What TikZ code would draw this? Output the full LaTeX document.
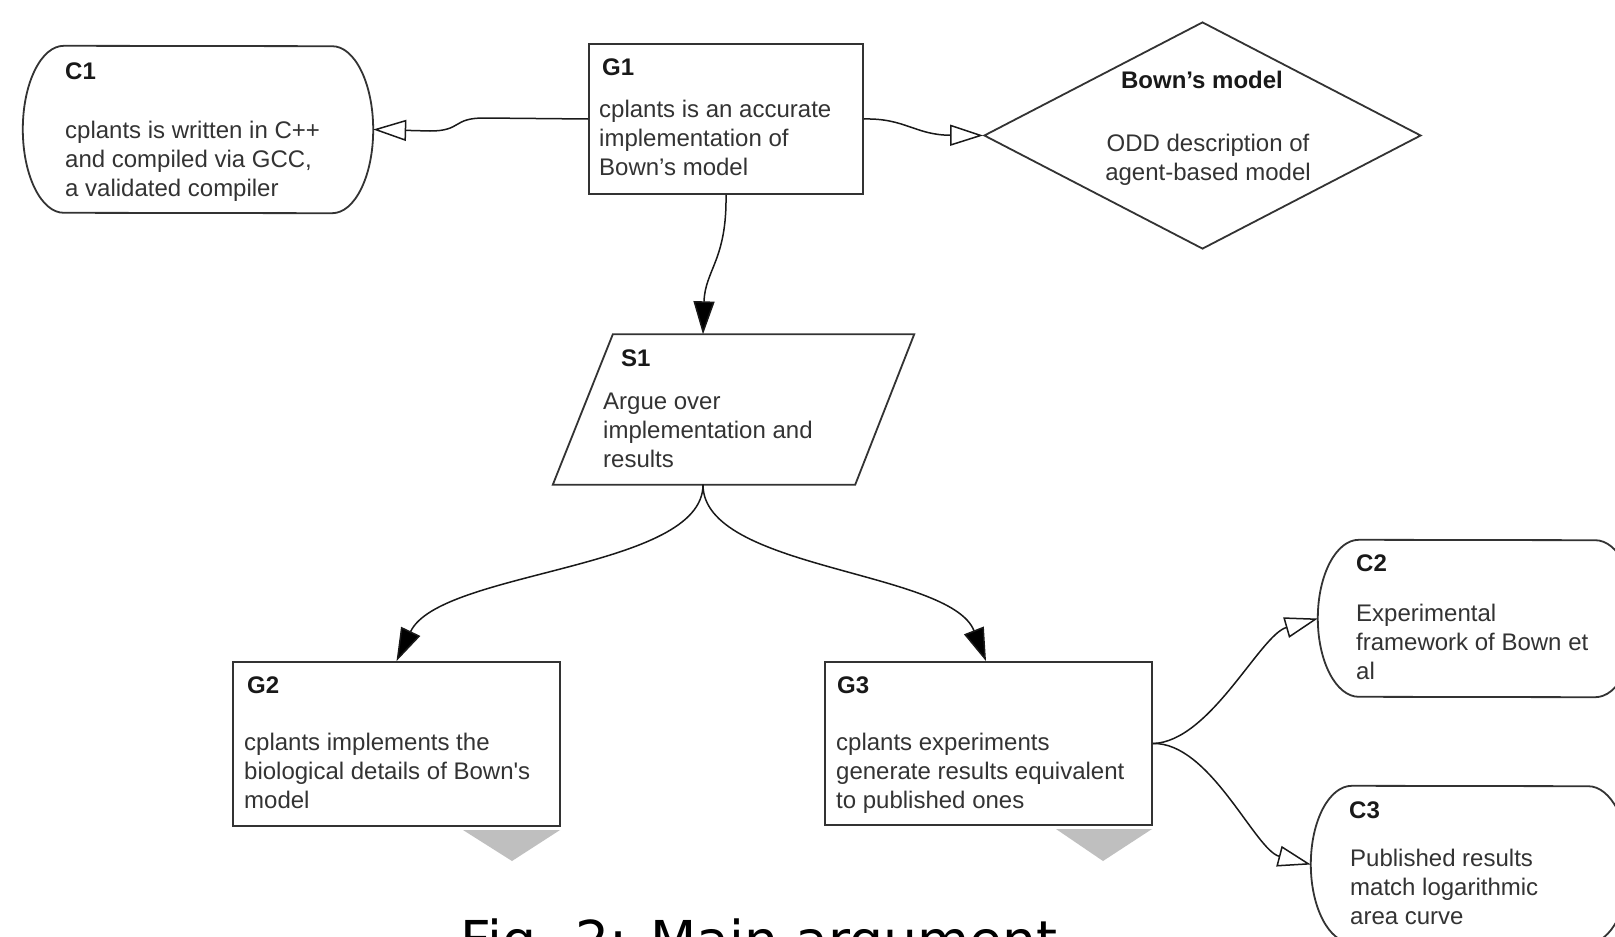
\documentclass[tikz,border=0pt]{standalone}
\usepackage{fontspec}
\setmainfont{Liberation Sans}
\newfontfamily\capfont{DejaVu Sans}
\usetikzlibrary{shapes.geometric,arrows.meta}
\tikzset{
  outline/.style={draw=black!80, line width=1.8pt},
  goalbox/.style={outline, rectangle, inner sep=0pt},
  solnbox/.style={outline, diamond, inner sep=0pt},
  frame/.style={inner sep=0pt},
  undev/.style={fill=black!25, draw=none},
  gtitle/.style={font=\fontsize{24}{28.8}\selectfont\bfseries, text=black!90, inner sep=0pt, anchor=base west},
  gbody/.style={font=\fontsize{24}{28.8}\selectfont, text=black!80, inner sep=0pt, align=left, anchor=north west},
  link/.style={draw=black!90, line width=1.5pt},
  supp/.style={link, -{Triangle[length=33pt,width=21pt,fill=black]}},
  ctxl/.style={link, -{Triangle[open,length=33pt,width=21pt,fill=white]}},
}
\begin{document}
\begin{tikzpicture}[x=1pt,y=-1pt]
\fill[white] (0,0) rectangle (1615,937);
\useasboundingbox (0,0) rectangle (1615,937);

% shapes
\node[frame, minimum width=350pt, minimum height=167pt] (C1) at (198,129.5) {};
\node[goalbox, minimum width=274pt, minimum height=150pt] (G1) at (726,119) {};
\node[solnbox, minimum width=437pt, minimum height=227pt] (bown) at (1202.5,135.5) {};
\node[frame, minimum width=361pt, minimum height=150pt] (S1) at (733.5,409.5) {};
\draw[outline] (S1.south west) -- ([xshift=-59pt]S1.south east) -- (S1.north east) -- ([xshift=60pt]S1.north west) -- cycle;
\node[goalbox, minimum width=327pt, minimum height=164pt] (G2) at (396.5,744) {};
\node[goalbox, minimum width=327pt, minimum height=163pt] (G3) at (988.5,743.5) {};
\node[frame, minimum width=318pt, minimum height=157pt] (C2) at (1477,618.5) {};
\node[frame, minimum width=318pt, minimum height=157pt] (C3) at (1470,864.5) {};
\foreach \n/\ry in {C1/83.5, C2/78.5, C3/78.5}{
  \draw[outline] ([xshift=41pt]\n.north west) arc[start angle=90, end angle=270, x radius=41pt, y radius=\ry pt]
    -- ([xshift=-41pt]\n.south east) arc[start angle=-90, end angle=90, x radius=41pt, y radius=\ry pt] -- cycle;
}

% undeveloped markers
\fill[undev] (463,830) -- (560,830) -- (512,861) -- cycle;
\fill[undev] (1056,829) -- (1152,829) -- (1103,861) -- cycle;

% texts
\node[gtitle] (tC1) at (65,79) {C1};
\node[gbody] (bC1) at (65,121) {cplants is written in C++\\and compiled via GCC,\\a validated compiler};
\node[gtitle] (tG1) at (602,75) {G1};
\node[gbody] (bG1) at (599,100) {cplants is an accurate\\implementation of\\Bown’s model};
\node[gtitle, anchor=base] (tB) at (1202,88) {Bown’s model};
\node[gbody, align=center, anchor=north] (bB) at (1208,134) {ODD description of\\agent-based model};
\node[gtitle] (tS1) at (621,366) {S1};
\node[gbody] (bS1) at (603,393) {Argue over\\implementation and\\results};
\node[gtitle] (tG2) at (247,693) {G2};
\node[gbody] (bG2) at (244,733) {cplants implements the\\biological details of Bown\textquotesingle s\\model};
\node[gtitle] (tG3) at (837,693) {G3};
\node[gbody] (bG3) at (836,733) {cplants experiments\\generate results equivalent\\to published ones};
\node[gtitle] (tC2) at (1356,571) {C2};
\node[gbody] (bC2) at (1356,604) {Experimental\\framework of Bown et\\al};
\node[gtitle] (tC3) at (1349,818) {C3};
\node[gbody] (bC3) at (1350,849) {Published results\\match logarithmic\\area curve};

% caption (cut by the page edge, as in the reference)
\node[font=\capfont\fontsize{53.6}{60}\selectfont, inner sep=0pt, anchor=base west] (cap) at (460,959) {Fig. 2: Main argument};

% connectors
\draw[ctxl] (G1.west) -- (484,118) .. controls (452,118) and (462,131) .. (430,131) -- (C1.east);
\draw[ctxl] (G1.east) .. controls (905,118) and (915,135) .. (bown.west);
\draw[supp] (G1.south) .. controls (727,260) and (705,270) .. ([xshift=-30.5pt]S1.north);
\draw[supp] ([xshift=-30.5pt]S1.south) .. controls (703,570) and (440,570) .. (G2.north);
\draw[supp] ([xshift=-30.5pt]S1.south) .. controls (703,570) and (950,570) .. ([xshift=-2.5pt]G3.north);
\draw[ctxl] (G3.east) .. controls (1210,742) and (1260,635) .. (C2.west);
\draw[ctxl] (G3.east) .. controls (1210,742) and (1255,850) .. (C3.west);
\end{tikzpicture}
\end{document}
